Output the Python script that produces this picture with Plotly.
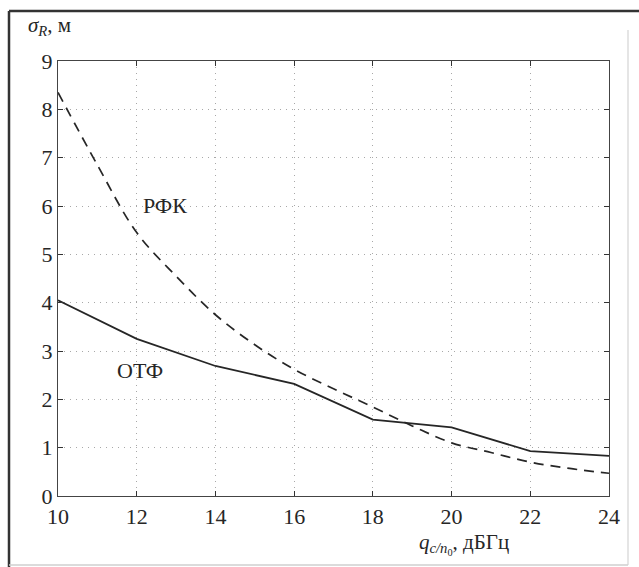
import plotly.graph_objects as go

# Data
q_rfk = [10, 11, 12, 13, 14, 15, 16, 17, 18, 19, 20, 21, 22, 23, 24]
sigma_rfk = [8.35, 6.85, 5.45, 4.55, 3.75, 3.13, 2.62, 2.22, 1.84, 1.45, 1.1, 0.9, 0.7, 0.57, 0.47]

q_otf = [10, 12, 14, 16, 18, 20, 22, 24]
sigma_otf = [4.05, 3.25, 2.69, 2.32, 1.58, 1.42, 0.93, 0.83]

x_ticks = [10, 12, 14, 16, 18, 20, 22, 24]
y_ticks = [0, 1, 2, 3, 4, 5, 6, 7, 8, 9]

W, H = 639, 567
L, R, T, B = 58, 30, 61, 71
pw, ph = W - L - R, H - T - B


def px(xp):
    return (xp - L) / pw


def py(yp):
    return (H - B - yp) / ph


FONT = "Liberation Serif"
INK = "#262626"

fig = go.Figure()
fig.add_trace(go.Scatter(x=q_rfk, y=sigma_rfk, mode="lines", line_shape="spline",
                         line=dict(color=INK, width=1.7, dash="10px,7px"),
                         showlegend=False, hoverinfo="skip"))
fig.add_trace(go.Scatter(x=q_otf, y=sigma_otf, mode="lines",
                         line=dict(color=INK, width=1.8),
                         showlegend=False, hoverinfo="skip"))

axis_common = dict(showline=True, linecolor="#444", linewidth=1.2, mirror="allticks",
                   ticks="inside", ticklen=5, tickcolor="#333", tickwidth=1.2,
                   showgrid=True, gridcolor="#a8a8a8", gridwidth=1, griddash="1px,5px",
                   zeroline=False, tickfont=dict(family=FONT, size=22, color=INK))

fig.update_xaxes(range=[10, 24], tickvals=x_ticks, ticktext=[str(v) for v in x_ticks], **axis_common)
fig.update_yaxes(range=[0, 9], tickvals=y_ticks, ticktext=[str(v) for v in y_ticks], **axis_common)

fig.add_annotation(x=12.72, y=6.02, xref="x", yref="y", text="РФК", showarrow=False,
                   font=dict(family=FONT, size=22, color=INK))
fig.add_annotation(x=12.08, y=2.59, xref="x", yref="y", text="ОТФ", showarrow=False,
                   font=dict(family=FONT, size=22, color=INK))

fig.add_annotation(x=px(26), y=py(26), xref="paper", yref="paper", xanchor="left", yanchor="middle",
                   text="<i>σ</i><sub><i>R</i></sub>, м", showarrow=False,
                   font=dict(family=FONT, size=21, color=INK))
fig.add_annotation(x=px(417), y=py(544), xref="paper", yref="paper", xanchor="left", yanchor="middle",
                   text="<i>q</i><sub><i>c/n</i><sub>0</sub></sub>, дБГц", showarrow=False,
                   font=dict(family=FONT, size=21, color=INK))

# outer frame
fig.add_shape(type="line", xref="paper", yref="paper", x0=px(9), x1=px(639), y0=py(11), y1=py(11),
              line=dict(color="#333", width=2.5))
fig.add_shape(type="line", xref="paper", yref="paper", x0=px(9), x1=px(9), y0=py(11), y1=py(567),
              line=dict(color="#333", width=2.5))
fig.add_shape(type="line", xref="paper", yref="paper", x0=px(628), x1=px(628), y0=py(30), y1=py(565),
              line=dict(color="#dcdcdc", width=1.5))
fig.add_shape(type="line", xref="paper", yref="paper", x0=px(9), x1=px(628), y0=py(565), y1=py(565),
              line=dict(color="#cfcfcf", width=1.5))

fig.update_layout(width=W, height=H, margin=dict(l=L, r=R, t=T, b=B),
                  font=dict(family=FONT, size=22, color=INK),
                  paper_bgcolor="white", plot_bgcolor="white")

fig.write_html("out.html")
